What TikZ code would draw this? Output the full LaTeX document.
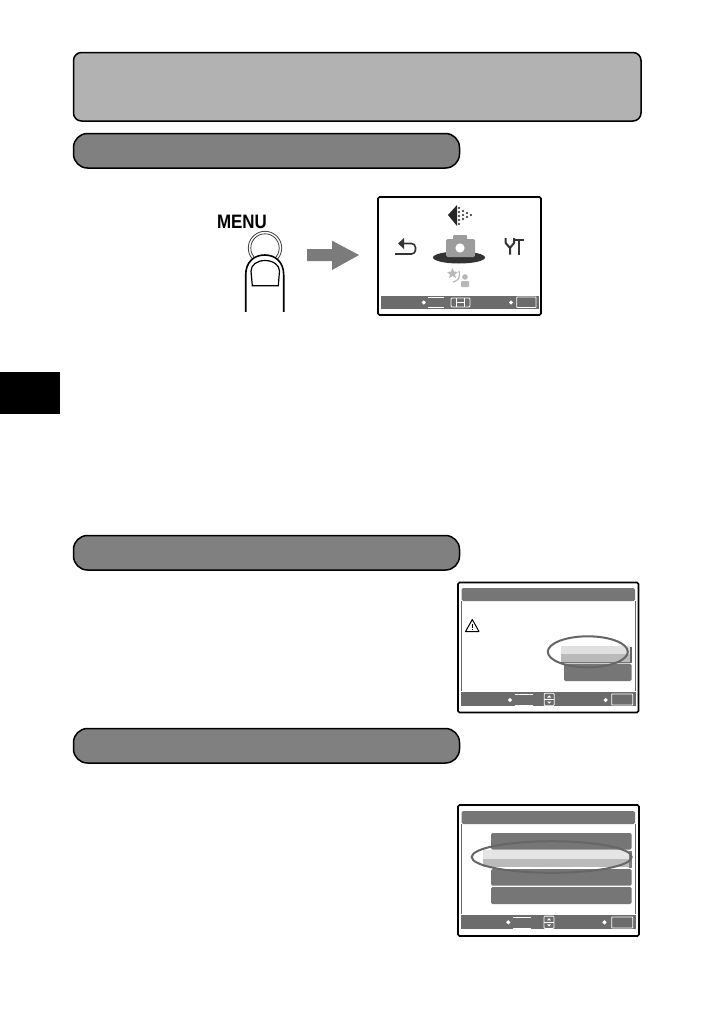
\documentclass[tikz,border=0pt]{standalone}
\usepackage{fontspec}
\setmainfont{Liberation Sans}
\usetikzlibrary{calc}
\definecolor{panelgray}{HTML}{B2B2B2}
\definecolor{pillgray}{HTML}{808080}
\definecolor{bargray}{HTML}{6C6C6C}
\definecolor{btngray}{HTML}{767676}
\definecolor{icongray}{HTML}{9C9C9C}
\definecolor{ringgray}{HTML}{666666}
\tikzset{
  pillbox/.style = {draw = black, line width = 1.5pt, fill = pillgray, rounded corners = 14pt},
  screenbox/.style = {draw = black, line width = 1.7pt, fill = white, rounded corners = 1.5pt},
  softbar/.style = {fill = btngray, rounded corners = 1.5pt},
  softkey/.style = {draw = white, line width = 0.8pt},
  selring/.style = {draw = ringgray, line width = 2pt},
  iconline/.style = {draw = black!80, line width = 1.6pt}
}
\newcommand{\softdiamond}[1]{\fill [white] ($(#1)+(-2.2,0)$) -- ($(#1)+(0,-2.2)$) -- ($(#1)+(2.2,0)$) -- ($(#1)+(0,2.2)$) -- cycle;}
\newcommand{\updownkey}[1]{
  \draw [softkey, rounded corners = 1pt] ($(#1)+(-5,-6.2)$) rectangle ($(#1)+(5,6.2)$);
  \draw [softkey] ($(#1)+(-5,0)$) -- ($(#1)+(5,0)$);
  \fill [white] ($(#1)+(-2,-2)$) -- ($(#1)+(2,-2)$) -- ($(#1)+(0,-4.2)$) -- cycle;
  \fill [white] ($(#1)+(-2,2)$) -- ($(#1)+(2,2)$) -- ($(#1)+(0,4.2)$) -- cycle;
}
\begin{document}
\begin{tikzpicture}[x=1pt, y=-1pt]
\useasboundingbox (0,0) rectangle (715,1012);
\fill [white] (0,0) rectangle (715,1012);
\draw [line width = 1.5pt, fill = panelgray, rounded corners = 8pt] (73.5,52.5) rectangle (641,121);
\draw [pillbox] (73.5,133.5) rectangle (459.5,168);
\draw [pillbox] (73.5,535.5) rectangle (459.5,570);
\draw [pillbox] (73.5,728.5) rectangle (459.5,763);
\fill [black] (0,371.5) rectangle (59.5,413.5);
\node (menu) [font = \bfseries\fontsize{18}{18}\selectfont, inner sep = 0pt] at (242,222) {\scalebox{0.94}[1.08]{MENU}};
\draw [line width = 0.8pt, black!75] (265,248) circle (16.7);
\draw [line width = 0.8pt, black!75] (265,248) circle (14.2);
\draw [line width = 1.6pt, fill = white] (245.7,312) -- (245.7,275) .. controls (245.7,262) and (254,255) .. (264.7,255) .. controls (275.4,255) and (283.7,262) .. (283.7,275) -- (283.7,312);
\fill [white] (243,311.8) rectangle (287,315);
\draw [line width = 1.2pt] (252.3,285.7) -- (251,271) .. controls (251,265) and (257,260.5) .. (265,260.5) .. controls (273,260.5) and (279.5,265) .. (279.5,271) -- (278.3,285.7) -- cycle;
\fill [bargray!90] (307,249) -- (332,249) -- (332,240.7) -- (359,255) -- (332,270) -- (332,261) -- (307,261) -- cycle;
\draw [screenbox] (378,197) rectangle (541,315);
\fill [bargray] (381,296) rectangle (538.5,309);
\softdiamond{423.7,302.5}
\draw [softkey] (428,297.3) -- (444,297.3) (428,307.5) -- (444,307.5);
\draw [softkey, rounded corners = 1pt] (451,298) rectangle (470,307);
\draw [softkey] (456,298) -- (456,307) (464.5,298) -- (464.5,307) (456,302.5) -- (464.5,302.5);
\softdiamond{511,302.5}
\draw [softkey, rounded corners = 0.5pt] (516.7,297) rectangle (536,307.5);
\fill [black!85] (448,215) -- (457,205) -- (457,226) -- cycle;
\foreach \x/\y in {459/208, 459/212, 459/216, 459/220, 459/224, 463/211, 463/215, 463/219, 467/213, 467/217, 471/215} \fill [black!85] (\x,\y) circle (1.2);
\fill [black!80] (459,257.5) ellipse (26 and 6);
\fill [icongray, rounded corners = 1.5pt] (446,239) rectangle (475,257);
\fill [icongray, rounded corners = 1pt] (453,235) rectangle (467,242);
\fill [white] (460,248) circle (4.6);
\draw [iconline, rounded corners = 4pt] (402,243.5) -- (415.5,243.5) -- (415.5,254) -- (395,254);
\fill [black!80] (398,243.5) -- (404,238) -- (404,249) -- cycle;
\draw [iconline, line width = 2pt] (505.7,238) -- (505.7,243) -- (510,248) -- (514,243) -- (514,238) (510,248) -- (510,254.5);
\draw [iconline, line width = 2.6pt] (514,240) -- (523.5,240) (519,240) -- (519,254.5);
\fill [black!28] (452.5,268) -- (454,271.5) -- (458,272) -- (455,274.5) -- (456,278) -- (452.5,276) -- (449,278) -- (450,274.5) -- (447,272) -- (451,271.5) -- cycle;
\draw [black!28, line width = 1.2pt] (459,271) .. controls (461,277) and (458,281) .. (453,282);
\fill [black!28, rounded corners = 1pt] (461,281) rectangle (469,287);
\fill [black!28] (465,277) circle (2.8);
\draw [screenbox] (458,582.5) rectangle (638.5,712.5);
\fill [softbar] (461.7,588) rectangle (635,601);
\draw [line width = 0.5pt, black!60] (461.7,601) -- (461.7,691) (635,601) -- (635,691);
\fill [bargray] (461,691.7) rectangle (635.5,705.7);
\draw [line width = 1pt, line join = round] (472.3,619.5) -- (465.5,631.5) -- (479,631.5) -- cycle;
\draw [line width = 0.8pt] (472.3,623.5) -- (472.3,628) (472.3,629) -- (472.3,630.3);
\fill [softbar] (564,663.7) rectangle (631.7,681);
\fill [black!12] (560.7,645.7) rectangle (630,654);
\fill [black!27] (560.7,654) rectangle (630,662);
\fill [black!60] (630,647) rectangle (632,662.5);
\fill [black!55] (560.7,662) rectangle (632,662.6);
\draw [selring] (587.8,651.8) ellipse (40 and 15.5);
\softdiamond{510,700}
\draw [softkey] (515,694) -- (532.7,694) (515,705) -- (532.7,705);
\updownkey{549.2,699.5}
\softdiamond{605.7,700}
\draw [softkey, rounded corners = 0.5pt] (611.7,694) rectangle (632.7,705);
\draw [screenbox] (458,805) rectangle (639,936);
\fill [softbar] (461.7,811) rectangle (635,824);
\draw [line width = 0.5pt, black!60] (461.7,824) -- (461.7,914) (635,824) -- (635,914);
\fill [bargray] (461,914.7) rectangle (635.5,928.7);
\fill [softbar] (491,833) rectangle (631.7,849.5);
\fill [softbar] (491,869) rectangle (631.7,885.7);
\fill [softbar] (491,887) rectangle (631.7,904);
\fill [black!10] (483,850) rectangle (629,859);
\fill [black!27] (483,859) rectangle (629,867);
\fill [black!50] (629,851) rectangle (631.7,867.5);
\draw [selring] (551.7,857) ellipse (80 and 15.8);
\softdiamond{508.3,922.3}
\draw [softkey] (513,917) -- (531,917) (513,928) -- (531,928);
\updownkey{549,922.3}
\softdiamond{604.5,922.3}
\draw [softkey, rounded corners = 0.5pt] (611.7,917) rectangle (632.7,928);
\end{tikzpicture}
\end{document}
